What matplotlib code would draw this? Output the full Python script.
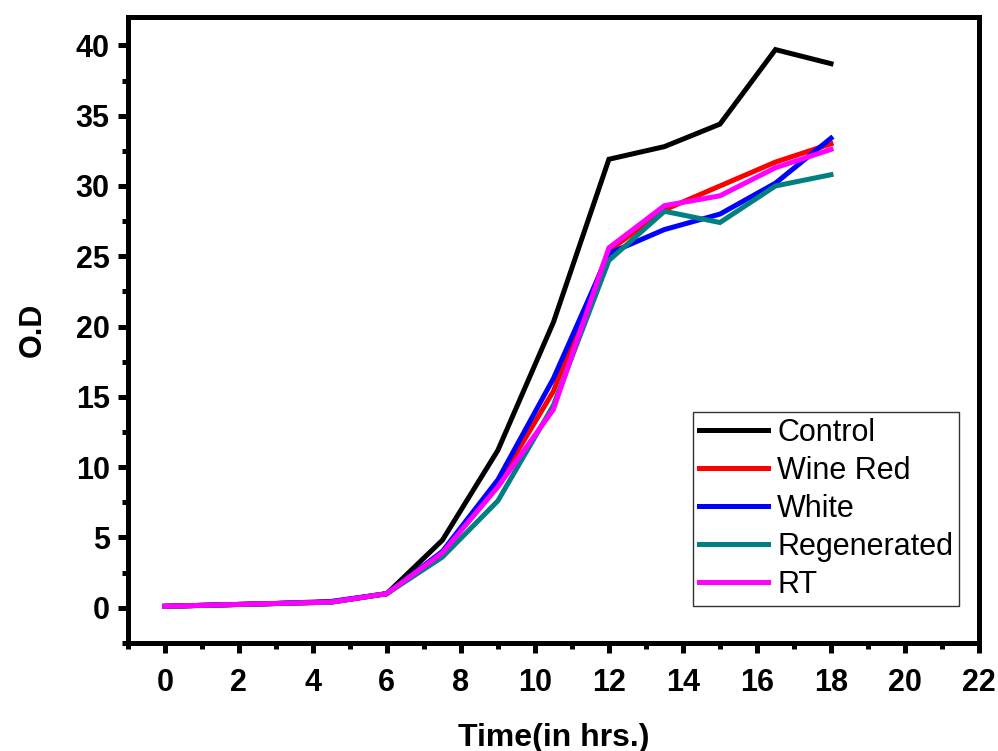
import matplotlib
matplotlib.use("Agg")
import matplotlib.pyplot as plt
from matplotlib.ticker import MultipleLocator

time_h = [0, 1.5, 3, 4.5, 6, 7.5, 9, 10.5, 12, 13.5, 15, 16.5, 18]
control = [0.1, 0.2, 0.3, 0.4, 1.0, 4.8, 11.2, 20.3, 31.9, 32.8, 34.4, 39.7, 38.7]
wine_red = [0.1, 0.2, 0.3, 0.4, 1.0, 3.9, 8.8, 15.4, 25.4, 28.3, 30.0, 31.7, 33.0]
white = [0.1, 0.2, 0.3, 0.45, 1.0, 4.0, 9.1, 16.3, 25.2, 26.9, 28.0, 30.2, 33.4]
regenerated = [0.1, 0.2, 0.3, 0.4, 1.0, 3.6, 7.6, 14.4, 24.7, 28.2, 27.4, 30.0, 30.8]
rt = [0.1, 0.2, 0.3, 0.4, 1.0, 3.9, 8.6, 14.1, 25.6, 28.6, 29.3, 31.3, 32.6]

series = [
    ("Control", control, "#000000"),
    ("Wine Red", wine_red, "#ff0000"),
    ("White", white, "#0000ff"),
    ("Regenerated", regenerated, "#008080"),
    ("RT", rt, "#ff00ff"),
]

plt.rcParams['font.family'] = ['Liberation Sans', 'DejaVu Sans']

fig = plt.figure(figsize=(9.98, 7.51), dpi=100)
ax = fig.add_axes([0.128, 0.144, 0.853, 0.833])

for name, vals, col in series:
    ax.plot(time_h, vals, color=col, lw=3.6, label=name, solid_joinstyle='miter')

ax.set_xlim(-1, 22)
ax.set_ylim(-2.5, 42)
ax.xaxis.set_major_locator(MultipleLocator(2))
ax.xaxis.set_minor_locator(MultipleLocator(1))
ax.yaxis.set_major_locator(MultipleLocator(5))
ax.yaxis.set_minor_locator(MultipleLocator(2.5))

for s in ax.spines.values():
    s.set_linewidth(3.6)

ax.tick_params(which='major', direction='out', length=7, width=3.6,
               labelsize=22, top=False, right=False)
ax.tick_params(axis='x', which='major', pad=11)
ax.tick_params(axis='y', which='major', pad=6)
ax.tick_params(which='minor', direction='out', length=4, width=3.6,
               top=False, right=False)
for lab in ax.get_xticklabels() + ax.get_yticklabels():
    lab.set_fontweight('bold')

ax.set_xlabel("Time(in hrs.)", fontsize=23, fontweight='bold', labelpad=18)
ax.set_ylabel("O.D", fontsize=22, fontweight='bold', labelpad=20)

leg = ax.legend(loc='lower right', bbox_to_anchor=(0.977, 0.059), fontsize=22,
                frameon=True, fancybox=False, edgecolor='black',
                handlelength=2.25, handletextpad=0.3, labelspacing=0.26,
                borderpad=0.2, borderaxespad=0)
leg.get_frame().set_linewidth(1.0)
for h in leg.get_lines():
    h.set_linewidth(3.6)

fig.savefig("out.png", dpi=100)
